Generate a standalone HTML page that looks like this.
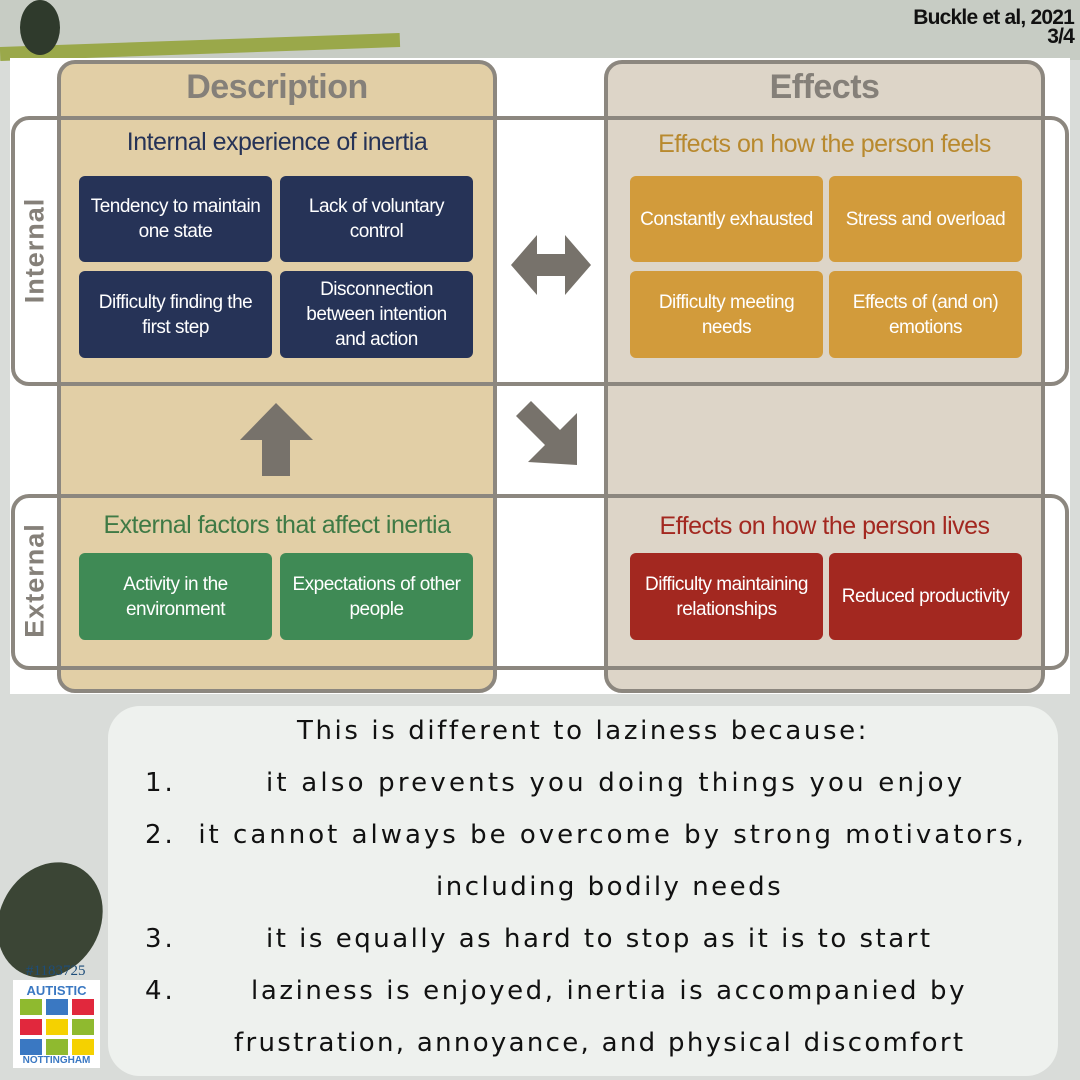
<!DOCTYPE html><html><head><style>
body{margin:0;width:1080px;height:1080px;position:relative;overflow:hidden;background:#d9dcd9;font-family:"Liberation Sans",sans-serif}
.a{position:absolute}
.col{position:absolute;border:4px solid #8c877f;border-radius:18px;box-sizing:border-box}
.row{position:absolute;border:4px solid #8c877f;border-radius:18px;box-sizing:border-box}
.box{position:absolute;width:193px;border-radius:6px;color:#fff;font-size:19px;display:flex;align-items:center;justify-content:center;text-align:center;line-height:25px;letter-spacing:-0.5px}
.n{background:#263357}.o{background:#d29b3b}.g{background:#3f8a55}.r{background:#a32820}
.t{position:absolute;font-size:25px;text-align:center;letter-spacing:-0.5px}
.l{position:absolute;font-family:"DejaVu Sans",sans-serif;font-size:26px;color:#111;letter-spacing:3px;white-space:nowrap}
</style></head><body>
<div class="a" style="left:0;top:0;width:1080px;height:60px;background:#c7ccc4"></div>
<div class="a" style="left:0;top:40px;width:400px;height:14px;background:#9aa84a;transform:rotate(-2deg)"></div>
<div class="a" style="left:20px;top:0;width:40px;height:55px;background:#2f3a2c;border-radius:50%"></div>
<div class="a" style="left:0;top:860px;width:100px;height:120px;background:#3b4535;border-radius:50%;transform:rotate(30deg)"></div>
<div class="a" style="left:858px;top:8px;font-weight:bold;font-size:21px;color:#111;text-align:right;width:216px;line-height:19px;letter-spacing:-0.8px">Buckle et al, 2021<br>3/4</div>
<div class="a" style="left:10px;top:58px;width:1060px;height:636px;background:#fff"></div>
<div class="col" style="left:57px;top:60px;width:440px;height:633px;background:#e2cfa6"></div>
<div class="col" style="left:604px;top:60px;width:441px;height:633px;background:#ddd5c8"></div>
<div class="row" style="left:11px;top:116px;width:1058px;height:270px"></div>
<div class="row" style="left:11px;top:494px;width:1058px;height:176px"></div>
<div class="t" style="left:57px;top:68px;width:440px;font-size:34px;font-weight:bold;color:#858079">Description</div>
<div class="t" style="left:604px;top:68px;width:441px;font-size:34px;font-weight:bold;color:#858079">Effects</div>
<div class="a" style="left:-40px;top:235px;width:150px;text-align:center;transform:rotate(-90deg);font-weight:bold;font-size:27px;color:#858079;letter-spacing:1px">Internal</div>
<div class="a" style="left:-40px;top:565px;width:150px;text-align:center;transform:rotate(-90deg);font-weight:bold;font-size:27px;color:#858079;letter-spacing:1px">External</div>
<div class="t" style="left:57px;top:128px;width:440px;color:#263357">Internal experience of inertia</div>
<div class="t" style="left:604px;top:130px;width:441px;color:#b8892e">Effects on how the person feels</div>
<div class="t" style="left:57px;top:511px;width:440px;color:#3f7a45">External factors that affect inertia</div>
<div class="t" style="left:604px;top:512px;width:441px;color:#a32820">Effects on how the person lives</div>
<div class="box n" style="left:79px;top:176px;height:86px">Tendency to maintain<br>one state</div>
<div class="box n" style="left:280px;top:176px;height:86px">Lack of voluntary<br>control</div>
<div class="box n" style="left:79px;top:271px;height:87px">Difficulty finding the<br>first step</div>
<div class="box n" style="left:280px;top:271px;height:87px">Disconnection<br>between intention<br>and action</div>
<div class="box o" style="left:630px;top:176px;height:86px">Constantly exhausted</div>
<div class="box o" style="left:829px;top:176px;height:86px">Stress and overload</div>
<div class="box o" style="left:630px;top:271px;height:87px">Difficulty meeting<br>needs</div>
<div class="box o" style="left:829px;top:271px;height:87px">Effects of (and on)<br>emotions</div>
<div class="box g" style="left:79px;top:553px;height:87px">Activity in the<br>environment</div>
<div class="box g" style="left:280px;top:553px;height:87px">Expectations of other<br>people</div>
<div class="box r" style="left:630px;top:553px;height:87px">Difficulty maintaining<br>relationships</div>
<div class="box r" style="left:829px;top:553px;height:87px">Reduced productivity</div>
<svg class="a" style="left:0;top:0" width="1080" height="1080">
<polygon fill="#77726b" points="511,265 537,235 537,254 565,254 565,235 591,265 565,295 565,276 537,276 537,295"/>
<polygon fill="#77726b" points="276,403 313,440 290,440 290,476 262,476 262,440 240,440"/>
<polygon fill="#77726b" points="577,465 577,413 560,430 531,401 516,416 545,445 528,462"/>
</svg>
<div class="a" style="left:108px;top:706px;width:950px;height:370px;background:#eef1ee;border-radius:32px"></div>
<div class="l" style="left:297px;top:716px;letter-spacing:2.6px">This is different to laziness because:</div>
<div class="l" style="left:145px;top:768px">1.</div>
<div class="l" style="left:266px;top:768px;letter-spacing:3.2px">it also prevents you doing things you enjoy</div>
<div class="l" style="left:145px;top:820px">2.&nbsp; it cannot always be overcome by strong motivators,</div>
<div class="l" style="left:436px;top:872px;letter-spacing:2.5px">including bodily needs</div>
<div class="l" style="left:145px;top:924px">3.</div>
<div class="l" style="left:266px;top:924px;letter-spacing:2.5px">it is equally as hard to stop as it is to start</div>
<div class="l" style="left:145px;top:976px">4.</div>
<div class="l" style="left:251px;top:976px;letter-spacing:2.6px">laziness is enjoyed, inertia is accompanied by</div>
<div class="l" style="left:234px;top:1028px;letter-spacing:2.3px">frustration, annoyance, and physical discomfort</div>
<div class="a" style="left:26px;top:963px;color:#1d4d7a;font-size:15px;font-family:'Liberation Serif',serif">#1183725</div>
<div class="a" style="left:13px;top:980px;width:87px;height:88px;background:#fff">
<div class="a" style="left:0;top:3px;width:87px;text-align:center;color:#3a78c2;font-weight:bold;font-size:13px">AUTISTIC</div>
<svg class="a" style="left:7px;top:19px" width="74" height="56">
<rect x="0" y="0" width="22" height="16" fill="#8fba2f"/><rect x="26" y="0" width="22" height="16" fill="#3a78c2"/><rect x="52" y="0" width="22" height="16" fill="#e1283d"/>
<rect x="0" y="20" width="22" height="16" fill="#e1283d"/><rect x="26" y="20" width="22" height="16" fill="#f5d100"/><rect x="52" y="20" width="22" height="16" fill="#8fba2f"/>
<rect x="0" y="40" width="22" height="16" fill="#3a78c2"/><rect x="26" y="40" width="22" height="16" fill="#8fba2f"/><rect x="52" y="40" width="22" height="16" fill="#f5d100"/></svg>
<div class="a" style="left:0;top:75px;width:87px;text-align:center;color:#3a78c2;font-weight:bold;font-size:10px">NOTTINGHAM</div>
</div>
</body></html>
